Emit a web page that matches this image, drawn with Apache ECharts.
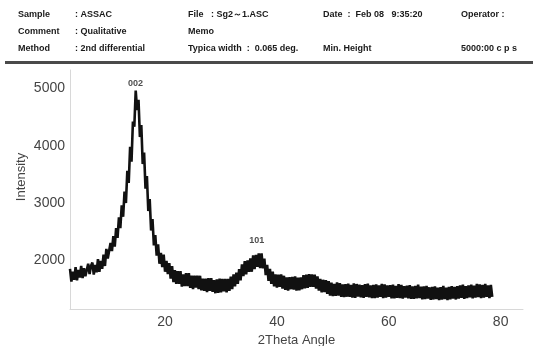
<!DOCTYPE html>
<html>
<head>
<meta charset="utf-8">
<script src="https://cdn.jsdelivr.net/npm/echarts@6/dist/echarts.min.js"></script>
<style>
html,body{margin:0;padding:0;background:#fff;}
#chart{width:533px;height:346px;}
</style>
</head>
<body>
<div id="chart"></div>
<script>
// ---- data ----
const angleStart = 3.0;   // 2Theta of the first sample
const angleStep = 0.25;   // sampling step in degrees
const intensity = [
  1850,1630,1800,1660,
  1880,1650,1830,1700,
  1900,1690,1860,1720,
  1700,1940,1760,1900,
  1960,1750,1920,1790,
  2020,1800,1990,1850,
  2100,1900,2200,2030,
  2050,2300,2160,2420,
  2240,2560,2390,2750,
  2560,2960,2760,3200,
  3000,3560,3350,3980,
  3720,4420,4330,4960,
  4620,4800,4150,4360,
  3680,3880,3250,3470,
  2860,3070,2520,2720,
  2260,2440,2080,2280,
  1940,2130,1880,2100,
  1800,1990,1760,1950,
  1680,1900,1620,1830,
  1590,1810,1590,1810,
  1540,1755,1550,1775,
  1550,1775,1520,1730,
  1495,1730,1525,1730,
  1495,1730,1475,1680,
  1465,1680,1445,1690,
  1465,1690,1450,1655,
  1425,1665,1430,1680,
  1440,1675,1460,1675,
  1440,1675,1465,1715,
  1495,1755,1545,1785,
  1590,1845,1650,1930,
  1725,1985,1755,2000,
  1800,2035,1800,2085,
  1845,2095,1885,2120,
  1865,2120,1860,2030,
  1740,1920,1640,1850,
  1590,1800,1545,1755,
  1525,1750,1535,1755,
  1505,1730,1485,1700,
  1470,1705,1495,1710,
  1490,1720,1470,1695,
  1475,1700,1495,1740,
  1510,1750,1520,1760,
  1535,1755,1535,1750,
  1505,1720,1470,1675,
  1440,1660,1445,1655,
  1415,1635,1385,1610,
  1375,1590,1380,1615,
  1385,1600,1360,1578,
  1356,1585,1364,1592,
  1360,1570,1348,1598,
  1346,1586,1365,1575,
  1355,1565,1344,1584,
  1363,1593,1352,1562,
  1342,1571,1341,1580,
  1350,1560,1360,1590,
  1340,1580,1350,1560,
  1360,1568,1336,1575,
  1335,1554,1343,1582,
  1341,1570,1330,1549,
  1348,1558,1337,1567,
  1326,1546,1325,1555,
  1334,1573,1342,1540,
  1318,1546,1324,1552,
  1330,1529,1308,1537,
  1316,1545,1324,1524,
  1303,1533,1312,1552,
  1322,1522,1304,1536,
  1318,1550,1332,1534,
  1316,1548,1330,1562,
  1344,1576,1328,1550,
  1341,1562,1353,1574,
  1335,1556,1347,1588,
  1358,1579,1339,1570,
  1350,1590,1360,1560,
  1340,1570,1360
];
const xTickLabels = [20, 40, 60, 80];
const yTickLabels = [2000, 3000, 4000, 5000];
const peakNames = ['002', '101'];
const peakAngles = [14.7, 36.4];
const peakLabelIntensity = [5090, 2350];

const headerRows = [
  ['Sample', ': ASSAC', 'File   : Sg2～1.ASC', 'Date  :  Feb 08   9:35:20', 'Operator :'],
  ['Comment', ': Qualitative', 'Memo', '', ''],
  ['Method', ': 2nd differential', 'Typica width  :  0.065 deg.', 'Min. Height', '5000:00 c p s']
];

// ---- build ----
const points = intensity.map((v, i) => [angleStart + i * angleStep, v]);
const peaks = peakNames.map((n, i) => ({ name: n, value: [peakAngles[i], peakLabelIntensity[i]] }));

const colX = [18, 75, 188, 323, 461];
const rowY = [15, 32, 49];
const graphics = [];
headerRows.forEach((row, r) => {
  row.forEach((t, c) => {
    if (!t) return;
    graphics.push({
      type: 'text', left: colX[c], top: rowY[r] - 5,
      style: { text: t, fill: '#1a1a1a', font: 'bold 9px "Liberation Sans", Arial, sans-serif' }
    });
  });
});
graphics.push({ type: 'rect', shape: { x: 5, y: 61, width: 528, height: 3 }, style: { fill: '#4a4a4a' } });
graphics.push({
  type: 'text', x: 21, y: 177, rotation: Math.PI / 2,
  style: { text: 'Intensity', fill: '#444', font: '13px "Liberation Sans", Arial, sans-serif',
           align: 'center', verticalAlign: 'middle' }
});

const chart = echarts.init(document.getElementById('chart'), null, { renderer: 'canvas' });
chart.setOption({
  animation: false,
  backgroundColor: '#fff',
  textStyle: { fontFamily: '"Liberation Sans", Arial, sans-serif' },
  grid: { left: 70, right: 10, top: 70, bottom: 37, containLabel: false, outerBoundsMode: 'none' },
  graphic: graphics,
  xAxis: {
    type: 'value', min: 3, max: 84,
    name: '2Theta Angle', nameLocation: 'middle', nameGap: 24,
    nameTextStyle: { color: '#444', fontSize: 13 },
    axisLine: { lineStyle: { color: '#d8d8d8', width: 1 } },
    axisTick: { show: false },
    splitLine: { show: false },
    axisLabel: { customValues: xTickLabels, color: '#444', fontSize: 14, margin: 6 }
  },
  yAxis: {
    type: 'value', min: 1150, max: 5320,
    axisLine: { show: true, lineStyle: { color: '#d8d8d8', width: 1 } },
    axisTick: { show: false },
    splitLine: { show: false },
    axisLabel: { customValues: yTickLabels, color: '#444', fontSize: 14, margin: 5,
                 formatter: v => String(v) }
  },
  series: [
    {
      type: 'line', data: points, showSymbol: false, symbol: 'none',
      lineStyle: { color: '#111', width: 2.6 }, z: 2
    },
    {
      type: 'scatter', data: peaks, symbolSize: 0,
      label: { show: true, formatter: '{b}', position: 'inside', color: '#222', fontSize: 9, fontWeight: 'bold' },
      z: 3
    }
  ]
});
</script>
</body>
</html>
